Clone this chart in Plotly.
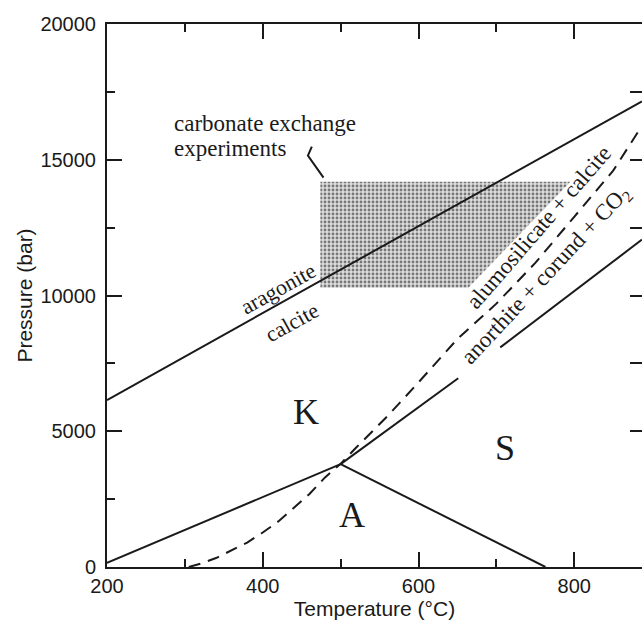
import plotly.graph_objects as go

# ---- data ----
arag_T = [200, 887]
arag_P = [6150, 17150]

ka_T = [200, 500]
ka_P = [150, 3790]

as_T = [500, 763]
as_P = [3790, 0]

ks_T = [500, 651, None, 705, 887]
ks_P = [3790, 6950, None, 8090, 12060]

dash_T = [305, 320, 340, 360, 380, 400, 420, 440, 460, 480, 500, 520, 560, 600, 650, 700, 750, 800, 850, 887]
dash_P = [0, 120, 330, 600, 900, 1270, 1680, 2180, 2690, 3300, 3800, 4400, 5550, 6800, 8400, 9700, 11200, 12900, 14600, 16250]

shade_T = [474, 474, 795, 664, 474]
shade_P = [10290, 14190, 14190, 10290, 10290]

pointer_T = [463, 458, 478]
pointer_P = [15480, 15150, 14340]

x_range = [200, 887]
y_range = [0, 20000]
x_ticks = [200, 400, 600, 800]
y_ticks = [0, 5000, 10000, 15000, 20000]
y_ticktext = ["0", "5000", "10000", "15000", "20000"]

SERIF = "Liberation Serif"
SANS = "Liberation Sans"
INK = "#1a1a1a"

fig = go.Figure()

fig.add_trace(go.Scatter(x=shade_T, y=shade_P, mode="lines", fill="toself",
                         line=dict(width=0, color="rgba(0,0,0,0)"),
                         fillcolor="rgba(0,0,0,0)",
                         fillpattern=dict(shape=".", fgcolor="#111111", bgcolor="#dcdcdc",
                                          size=4, solidity=0.4),
                         hoverinfo="skip", showlegend=False))

for T, P, dash in [(arag_T, arag_P, "solid"), (ka_T, ka_P, "solid"), (as_T, as_P, "solid"),
                   (ks_T, ks_P, "solid"), (dash_T, dash_P, "12px,8px"),
                   (pointer_T, pointer_P, "solid")]:
    fig.add_trace(go.Scatter(x=T, y=P, mode="lines",
                             line=dict(color=INK, width=2, dash=dash),
                             hoverinfo="skip", showlegend=False))

# invisible trace for right tick axis
fig.add_trace(go.Scatter(x=[x_range[0]], y=[y_range[0]], yaxis="y2", mode="markers",
                         marker=dict(opacity=0), hoverinfo="skip", showlegend=False))

def ann(text, x, y, size=23, angle=0, xanchor="center", family=SERIF):
    fig.add_annotation(x=x, y=y, text=text, showarrow=False, textangle=angle,
                       xanchor=xanchor, yanchor="middle",
                       font=dict(family=family, size=size, color=INK))

ann("carbonate exchange", 284, 16350, xanchor="left")
ann("experiments", 284, 15430, xanchor="left")
ann("aragonite", 420, 10275, size=22, angle=-29)
ann("calcite", 437, 9020, size=22, angle=-29)
ann("alumosilicate + calcite", 754, 12520, angle=-49)
ann("anorthite + corund + CO<sub>2</sub>", 765, 10750, angle=-47)
ann("K", 455, 5710, size=36)
ann("S", 711, 4380, size=36)
ann("A", 515, 1915, size=36)

axis_common = dict(showgrid=False, zeroline=False, showline=True, linecolor=INK, linewidth=2,
                   ticks="inside", tickcolor=INK, tickwidth=2,
                   tickfont=dict(family=SANS, size=20, color=INK))

fig.update_layout(
    width=642, height=623,
    margin=dict(l=107, r=0, t=24, b=56),
    paper_bgcolor="white", plot_bgcolor="white",
    xaxis=dict(range=x_range, tickvals=x_ticks, ticktext=[str(v) for v in x_ticks], ticklen=15,
               minor=dict(tickvals=[300, 500, 700], ticklen=8, ticks="inside",
                          tickcolor=INK, tickwidth=2),
               mirror="ticks",
               title=dict(text="Temperature (°C)", standoff=4,
                          font=dict(family=SANS, size=21, color=INK)),
               **axis_common),
    yaxis=dict(range=y_range, tickvals=y_ticks, ticktext=y_ticktext, ticklen=15,
               minor=dict(tickvals=[2500, 7500, 12500, 17500], ticklen=8, ticks="inside",
                          tickcolor=INK, tickwidth=2),
               ticklabelstandoff=5,
               title=dict(text="Pressure (bar)", standoff=2,
                          font=dict(family=SANS, size=21, color=INK)),
               **axis_common),
    yaxis2=dict(range=y_range, overlaying="y", side="right", showline=False,
                showgrid=False, zeroline=False, showticklabels=False,
                ticks="inside", ticklen=12, tickwidth=2, tickcolor=INK,
                tickvals=[5000, 7500, 10000, 12500, 15000, 17500]),
)

fig.write_html("out.html")
